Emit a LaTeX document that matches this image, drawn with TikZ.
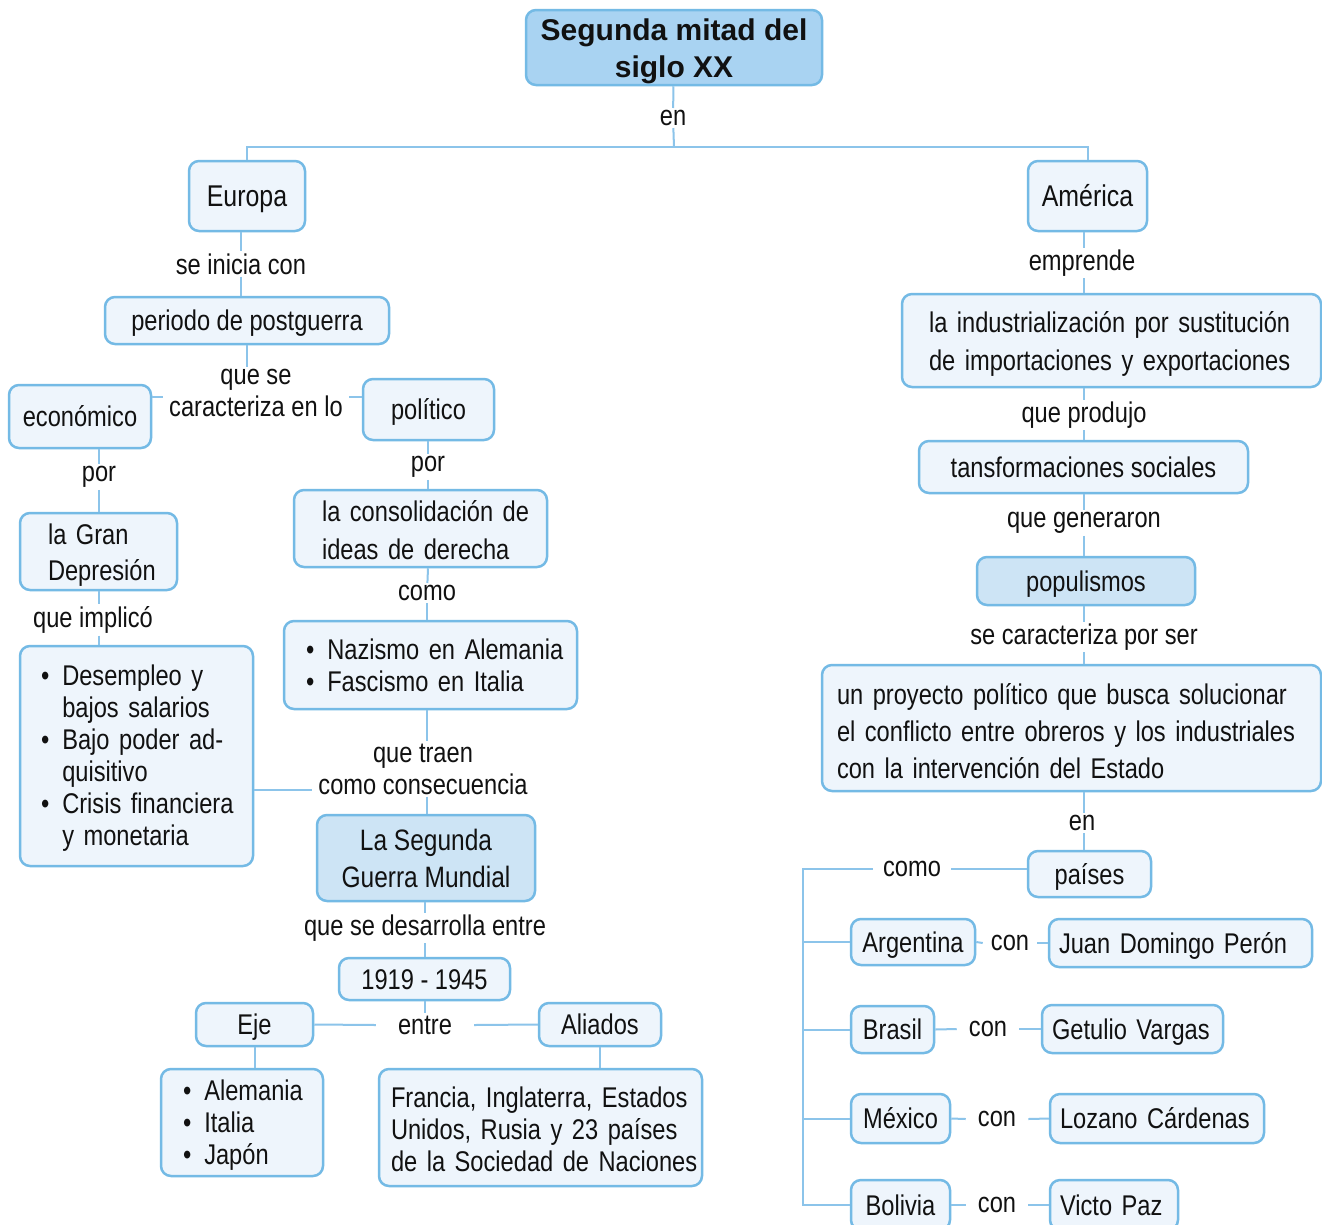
\documentclass[tikz,border=0pt]{standalone}
\usepackage{fontspec}
\setmainfont{Liberation Sans}
\newfontfamily\nar{Liberation Sans}[FakeStretch=0.83]
\definecolor{bd}{HTML}{74BAE5}
\definecolor{bg}{HTML}{EEF5FC}
\definecolor{bgmid}{HTML}{CDE4F5}
\definecolor{bgtop}{HTML}{A9D3F2}
\definecolor{ln}{HTML}{8CC4EA}
\definecolor{tx}{HTML}{111111}
\tikzset{
  box/.style={draw=bd, fill=bg, line width=2.5pt, rounded corners=10pt, inner sep=0pt,
    text=tx, align=center, font=\nar\fontsize{28.5}{32}\selectfont},
  one/.style={text height=23pt, text depth=3pt},
  lbl/.style={inner xsep=6pt, inner ysep=2pt, text=tx, align=center, font=\nar\fontsize{28.5}{32}\selectfont},
  conn/.style={draw=ln, line width=2pt},
  sz/.style 2 args={minimum width=#1pt, minimum height=#2pt},
  lbox/.style n args={3}{text width=#1pt-2*#3pt, inner xsep=#3pt, minimum height=#2pt, align=left},
}
\newcommand{\bul}{\textbullet\hspace{13pt}}
\newcommand{\bulsp}{\hphantom{\textbullet}\hspace{13pt}}
\newcommand{\LL}[1]{\mbox{#1}}
\newcommand{\dn}[1]{\rule{0pt}{#1pt}}
\begin{document}
\begin{tikzpicture}[x=1pt,y=-1pt]
\useasboundingbox (0,0) rectangle (1322,1224);
\fill[white] (0,0) rectangle (1322,1224);

% ---- nodes ----
\node[box, sz={296}{75}, fill=bgtop, font=\bfseries\fontsize{30}{37}\selectfont] (title) at (674,47.5) {\dn{30}Segunda mitad del\\siglo XX};
\node[lbl] (en1) at (673,118) {en};
\coordinate (j) at (674,147);

\node[box, one, sz={116}{70}, font=\nar\fontsize{30}{34}\selectfont] (europa) at (247,196) {Europa};
\node[box, one, sz={119}{70}, font=\nar\fontsize{30}{34}\selectfont] (america) at (1087.5,196) {América};

\node[lbl] (linicia) at (241,264) {se inicia con};
\node[lbl] (lemprende) at (1082,263) {emprende};

\node[box, one, sz={284}{47}] (periodo) at (247,320.5) {periodo de postguerra};
\node[box, lbox={419}{93}{27}, font=\nar\fontsize{28.5}{38}\selectfont] (industr) at (1111.5,340.5) {\dn{27}\LL{la industrialización por sustitución}\\\LL{de importaciones y exportaciones}};

\node[lbl] (lcaract) at (256,393) {que se\\caracteriza en lo};
\node[box, one, sz={142}{63}] (economico) at (80,416.5) {económico};
\node[box, one, sz={131}{61}] (politico) at (428.5,409.5) {político};
\node[lbl] (lprodujo) at (1084,415) {que produjo};
\node[box, one, sz={329}{52}] (transf) at (1083.5,467) {tansformaciones sociales};

\node[lbl] (lpor1) at (99,477) {por};
\node[lbl] (lpor2) at (428,467) {por};

\node[box, lbox={157}{77}{28}, font=\nar\fontsize{28.5}{36}\selectfont] (gran) at (98.5,551.5) {\dn{27}\LL{la Gran}\\\LL{Depresión}};
\node[box, lbox={253}{77}{28}, font=\nar\fontsize{28.5}{38}\selectfont] (consol) at (420.5,528.5) {\dn{25}\LL{la consolidación de}\\\LL{ideas de derecha}};
\node[lbl] (lgeneraron) at (1084,523) {que generaron};
\node[box, one, sz={218}{48}, fill=bgmid] (populismos) at (1086,581) {populismos};

\node[lbl] (lcomo1) at (427,593) {como};
\node[lbl] (limplico) at (93,620) {que implicó};
\node[lbl] (lsecaract) at (1084,637) {se caracteriza por ser};

\node[box, lbox={293}{88}{22}] (nazismo) at (430.5,665) {\dn{20}\LL{\bul Nazismo en Alemania}\\\LL{\bul Fascismo en Italia}};
\node[box, lbox={499}{126}{15}, font=\nar\fontsize{28.5}{37}\selectfont] (proyecto) at (1071.5,728) {\dn{27}\LL{un proyecto político que busca solucionar}\\\LL{el conflicto entre obreros y los industriales}\\\LL{con la intervención del Estado}};

\node[box, lbox={233}{220}{21}] (leftlist) at (136.5,756) {\dn{25}\LL{\bul Desempleo y}\\\LL{\bulsp bajos salarios}\\\LL{\bul Bajo poder ad-}\\\LL{\bulsp quisitivo}\\\LL{\bul Crisis financiera}\\\LL{\bulsp y monetaria}};

\node[lbl] (ltraen) at (423,769) {que traen\\como consecuencia};
\node[lbl] (len2) at (1082,823) {en};

\node[box, sz={218}{86}, fill=bgmid, font=\nar\fontsize{29.5}{37}\selectfont] (guerra) at (426,858) {La Segunda\\Guerra Mundial};
\node[box, one, sz={123}{46}] (paises) at (1089.5,874) {países};
\node[lbl, inner xsep=10pt] (lcomo2) at (912,869) {como};

\node[lbl] (ldesarrolla) at (425,928) {que se desarrolla entre};
\node[box, one, sz={124}{46}] (argentina) at (913,942) {Argentina};
\node[lbl, inner xsep=8pt] (lcon1) at (1010,943) {con};
\node[box, one, lbox={263}{48}{10}] (peron) at (1180.5,943) {\LL{Juan Domingo Perón}};

\node[box, one, sz={171}{42}] (y1919) at (424.5,979) {1919 - 1945};
\node[box, one, sz={117}{43}] (eje) at (254.5,1024.5) {Eje};
\node[lbl, inner xsep=22pt] (lentre) at (425,1025) {entre};
\node[box, one, sz={122}{43}] (aliados) at (600,1024.5) {Aliados};

\node[box, one, sz={83}{47}] (brasil) at (892.5,1029.5) {Brasil};
\node[lbl, inner xsep=12pt] (lcon2) at (988,1029) {con};
\node[box, one, lbox={181}{48}{10}] (getulio) at (1132.5,1029) {\LL{Getulio Vargas}};

\node[box, lbox={162}{107}{22}] (alemania) at (242,1122.5) {\dn{25}\LL{\bul Alemania}\\\LL{\bul Italia}\\\LL{\bul Japón}};
\node[box, lbox={323}{117}{12}] (francia) at (540.5,1127.5) {\dn{25}\LL{Francia, Inglaterra, Estados}\\\LL{Unidos, Rusia y 23 países}\\\LL{de la Sociedad de Naciones}};

\node[box, one, sz={99}{49}] (mexico) at (900.5,1118.5) {México};
\node[lbl, inner xsep=12pt] (lcon3) at (997,1119) {con};
\node[box, one, lbox={214}{49}{10}] (lozano) at (1157,1118.5) {\LL{Lozano Cárdenas}};

\node[box, one, sz={99}{50}] (bolivia) at (900.5,1205) {Bolivia};
\node[lbl, inner xsep=12pt] (lcon4) at (997,1205) {con};
\node[box, one, lbox={128}{50}{10}] (victo) at (1114,1205) {\LL{Victo Paz}};

% ---- connectors ----
\begin{scope}[conn]
\draw (title) -- (en1);
\draw (en1) -- (j);
\draw (europa.north) |- (j) -| (america.north);

\draw (linicia |- europa.south) -- (linicia);
\draw (linicia) -- (linicia |- periodo.north);
\draw (periodo.south) -- (periodo.south |- lcaract.north);
\draw (economico.east |- 0,397) -- (lcaract.west |- 0,397);
\draw (politico.west |- 0,397) -- (lcaract.east |- 0,397);

\draw (lpor1 |- economico.south) -- (lpor1);
\draw (lpor1) -- (lpor1 |- gran.north);
\draw (lpor1 |- gran.south) -- (lpor1 |- limplico.north);
\draw (lpor1 |- limplico.south) -- (lpor1 |- leftlist.north);

\draw (lpor2 |- politico.south) -- (lpor2);
\draw (lpor2) -- (lpor2 |- consol.north);
\draw (lpor2 |- consol.south) -- (lcomo1);
\draw (lcomo1) -- (lcomo1 |- nazismo.north);
\draw (lcomo1 |- nazismo.south) -- (lcomo1 |- ltraen.north);
\draw (leftlist.east |- 0,790) -- (ltraen.west |- 0,790);
\draw (lcomo1 |- ltraen.south) -- (lcomo1 |- guerra.north);

\draw (ldesarrolla |- guerra.south) -- (ldesarrolla);
\draw (ldesarrolla) -- (ldesarrolla |- y1919.north);
\draw (ldesarrolla |- y1919.south) -- (lentre);
\draw (eje.east) -- (lentre.west);
\draw (lentre.east) -- (aliados.west);
\draw (eje.south) -- (eje.south |- alemania.north);
\draw (aliados.south) -- (aliados.south |- francia.north);

\draw (lprodujo |- america.south) -- (lprodujo |- lemprende.north);
\draw (lprodujo |- lemprende.south) -- (lprodujo |- industr.north);
\draw (lprodujo |- industr.south) -- (lprodujo);
\draw (lprodujo) -- (lprodujo |- transf.north);
\draw (lprodujo |- transf.south) -- (lgeneraron);
\draw (lgeneraron) -- (lgeneraron |- populismos.north);
\draw (lgeneraron |- populismos.south) -- (lsecaract);
\draw (lsecaract) -- (lsecaract |- proyecto.north);
\draw (lsecaract |- proyecto.south) -- (lsecaract |- len2.north);
\draw (lsecaract |- len2.south) -- (lsecaract |- paises.north);

\draw (paises.west |- lcomo2) -- (lcomo2.east);
\coordinate (tt) at (803,869);
\draw (lcomo2.west) -- (tt) |- (bolivia.west);
\draw (tt |- argentina) -- (argentina.west);
\draw (tt |- brasil) -- (brasil.west);
\draw (tt |- mexico) -- (mexico.west);

\draw (argentina.east) -- (lcon1.west);
\draw (lcon1.east) -- (peron.west);
\draw (brasil.east) -- (lcon2.west);
\draw (lcon2.east) -- (getulio.west);
\draw (mexico.east) -- (lcon3.west);
\draw (lcon3.east) -- (lozano.west);
\draw (bolivia.east) -- (lcon4.west);
\draw (lcon4.east) -- (victo.west);
\end{scope}
\end{tikzpicture}
\end{document}
